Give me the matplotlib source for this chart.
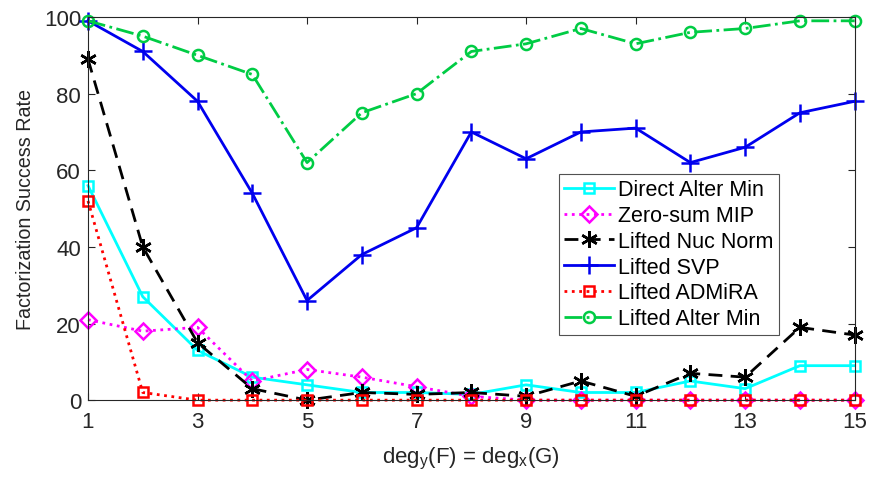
import matplotlib.pyplot as plt

plt.rcParams["font.family"] = ["Liberation Sans", "DejaVu Sans"]

deg = list(range(1, 16))

direct_alter_min = [56, 27, 13, 6, 4, 2, 2, 1.5, 4, 2, 2, 5, 3, 9, 9]
zero_sum_mip = [21, 18, 19, 5, 8, 6, 3.5, 1, 0, 0, 0, 0, 0, 0, 0]
lifted_nuc_norm = [89, 40, 15, 3, 0, 2, 1.5, 2, 1, 5, 1, 7, 6, 19, 17]
lifted_svp = [99, 91, 78, 54, 26, 38, 45, 70, 63, 70, 71, 62, 66, 75, 78]
lifted_admira = [52, 2, 0, 0, 0, 0, 0, 0, 0, 0, 0, 0, 0, 0, 0]
lifted_alter_min = [99, 95, 90, 85, 62, 75, 80, 91, 93, 97, 93, 96, 97, 99, 99]

# name, values, colour, line style, marker, marker size
series = [
    ("Direct Alter Min", direct_alter_min, "#00FFFF", "-", "s", 7),
    ("Zero-sum MIP", zero_sum_mip, "#FF00FF", ":", "D", 8),
    ("Lifted Nuc Norm", lifted_nuc_norm, "black", (0, (5, 3)), (6, 2, 0), 12),
    ("Lifted SVP", lifted_svp, "#0000EE", "-", "+", 13),
    ("Lifted ADMiRA", lifted_admira, "#FF0000", ":", "s", 7),
    ("Lifted Alter Min", lifted_alter_min, "#00CC44", "-.", "o", 8),
]

fig = plt.figure(figsize=(8.73, 4.81), dpi=100)
ax = fig.add_axes([0.1008, 0.166, 0.8782, 0.7966])

for name, vals, color, ls, mk, ms in series:
    ax.plot(deg, vals, color=color, linestyle=ls, marker=mk, markersize=ms,
            markerfacecolor="none", markeredgecolor=color, markeredgewidth=1.8,
            linewidth=2, label=name, clip_on=False)

ax.set_xlim(1, 15)
ax.set_ylim(0, 100)
ax.set_xticks(range(1, 16, 2))
ax.set_yticks(range(0, 101, 20))
ax.tick_params(direction="in", top=True, right=True, labelsize=16, length=5,
               width=0.8, colors="#262626")
ax.tick_params(axis="x", pad=8)
ax.tick_params(axis="y", pad=5)
for sp in ax.spines.values():
    sp.set_color("#262626")
    sp.set_linewidth(0.8)

ax.set_xlabel(r"deg$_\mathregular{y}$(F) = deg$_\mathregular{x}$(G)", fontsize=16,
              color="#262626", labelpad=9)
ax.set_ylabel("Factorization Success Rate", fontsize=14.2, color="#262626", labelpad=6)

leg = ax.legend(loc="upper right", bbox_to_anchor=(0.901, 0.59), fontsize=15.5,
                frameon=True, fancybox=False, edgecolor="#262626",
                handlelength=2.3, handletextpad=0.2, borderpad=0.25,
                labelspacing=0.22, borderaxespad=0)
leg.get_frame().set_linewidth(0.8)

fig.savefig("out.png", dpi=100)
